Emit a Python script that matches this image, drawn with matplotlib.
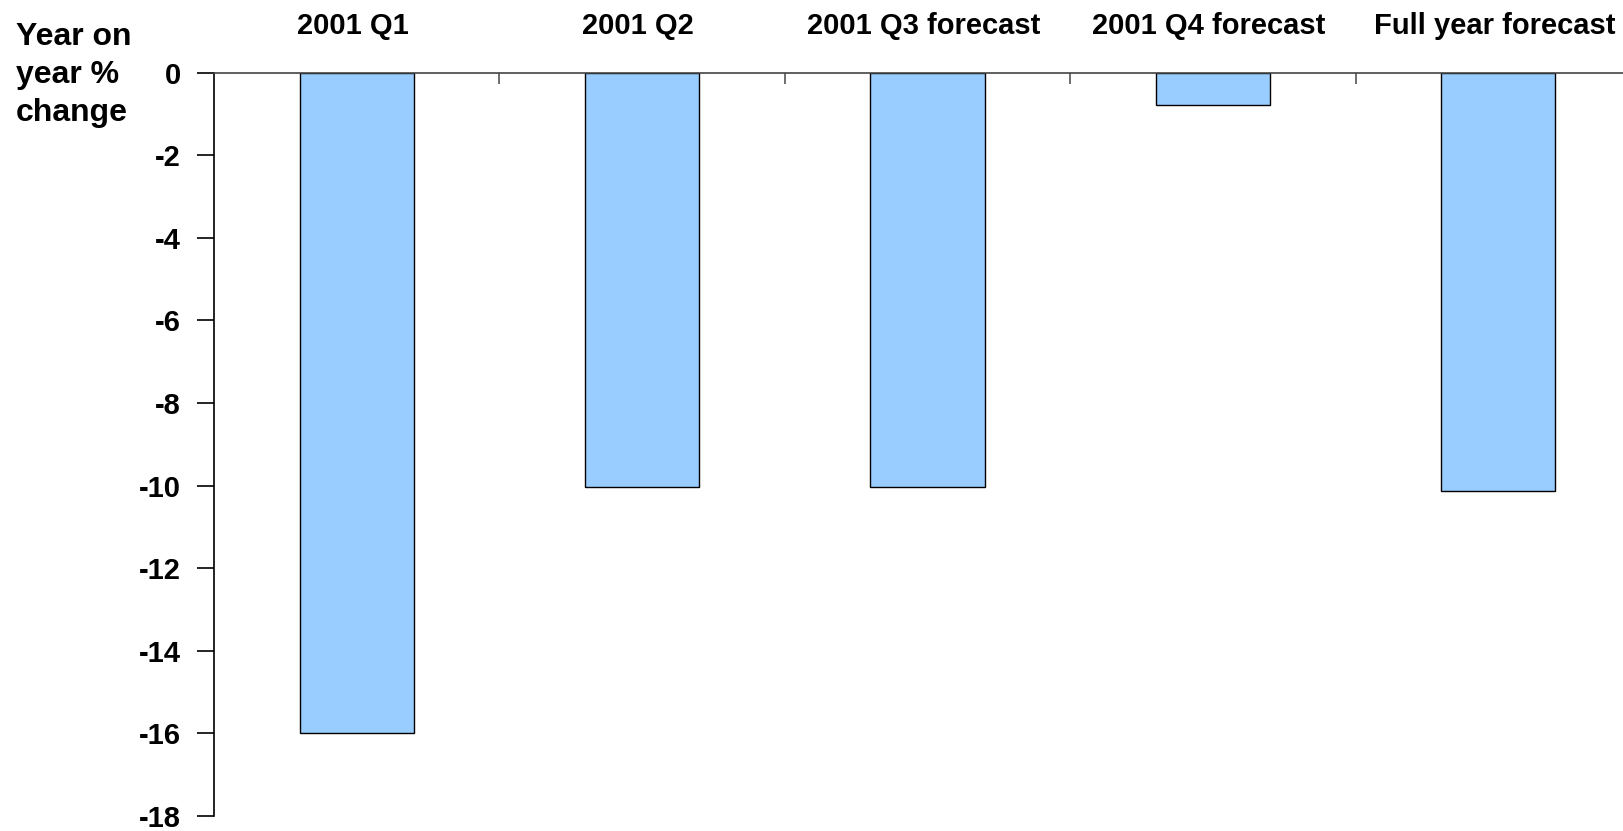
import matplotlib
matplotlib.use("Agg")
import matplotlib.pyplot as plt
import numpy as np

categories = ["2001 Q1", "2001 Q2", "2001 Q3 forecast", "2001 Q4 forecast", "Full year forecast"]
values = [-16.0, -10.03, -10.03, -0.78, -10.12]
y_ticks = [0, -2, -4, -6, -8, -10, -12, -14, -16, -18]
y_label = "Year on\nyear %\nchange"

plt.rcParams["font.family"] = ["Liberation Sans", "DejaVu Sans"]
plt.rcParams["font.weight"] = "bold"

W, H = 1624, 831
fig = plt.figure(figsize=(W / 100, H / 100), dpi=100)
ax = fig.add_axes([214 / W, 15 / H, 1427 / W, (816 - 72.7) / H])

x = np.arange(len(categories))
ax.bar(x, values, width=0.4, color="#99CCFF", edgecolor="black", linewidth=1.0, zorder=2)

ax.set_xlim(-0.5, len(categories) - 0.5)
ax.set_ylim(-18, 0)

# zero line across the top, with category dividers hanging from it
for s in ("bottom", "right"):
    ax.spines[s].set_visible(False)
ax.spines["top"].set_color("#444444")
ax.spines["top"].set_linewidth(1.2)
ax.spines["left"].set_color("black")
ax.spines["left"].set_linewidth(1.2)

ax.xaxis.tick_top()
ax.set_xticks(x + 0.5)
ax.set_xticklabels([])
ax.tick_params(axis="x", which="major", direction="in", length=8, width=1.2, color="#555555")

ax.set_yticks(y_ticks)
ax.set_yticklabels([str(v) for v in y_ticks])
ax.tick_params(axis="y", direction="out", length=12, width=1.2, pad=12,
               labelsize=21, color="black")
for lbl in ax.get_yticklabels():
    lbl.set_fontweight("bold")

# category names above the zero line
for xi, name in zip(x, categories):
    ax.annotate(name, xy=(xi, 0), xycoords="data", xytext=(-4, 38.7),
                textcoords="offset pixels", ha="center", va="baseline",
                fontsize=21, fontweight="bold", annotation_clip=False)

fig.text(16 / W, (H - 22) / H, y_label, ha="left", va="top", fontsize=23,
         fontweight="bold", linespacing=1.34)

fig.savefig("out.png", dpi=100)
